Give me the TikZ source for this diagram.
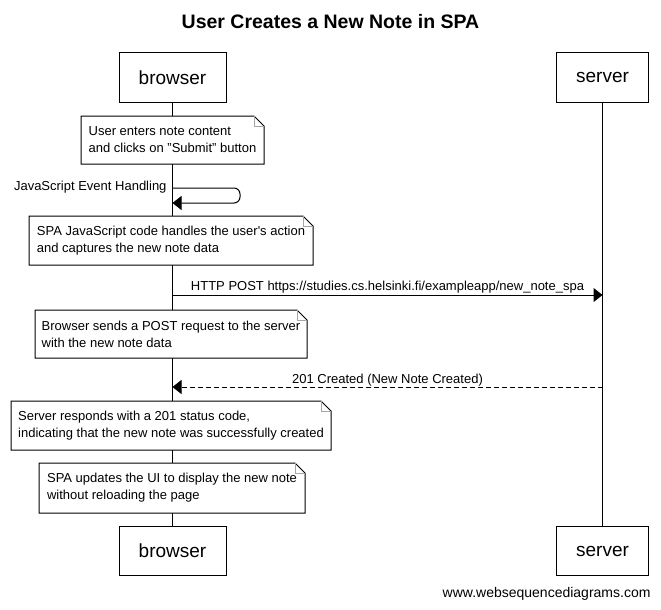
\documentclass[tikz,border=0pt]{standalone}
\usepackage{fontspec}
\setmainfont{Liberation Sans}[Ligatures=NoCommon]
\usetikzlibrary{arrows.meta}
\newcommand{\notefold}[1]{%
  \draw (#1.north west) -- ([xshift=-10pt]#1.north east) -- ([yshift=-10pt]#1.north east) -- (#1.south east) -- (#1.south west) -- cycle;
  \draw[foldline] ([xshift=-10pt]#1.north east) -- ([xshift=-10pt,yshift=-10pt]#1.north east) -- ([yshift=-10pt]#1.north east);}
\begin{document}
\begin{tikzpicture}[x=1pt,y=-1pt,line width=1pt,
  actor/.style={draw,rectangle,minimum width=#1,minimum height=49pt,inner sep=0pt,outer sep=0pt,font=\fontsize{19}{22}\selectfont},
  notebox/.style 2 args={rectangle,fill=white,minimum width=#1,minimum height=#2,inner sep=0pt,outer sep=0pt,align=left,font=\fontsize{13}{17}\selectfont},
  foldline/.style={draw=gray!70,line width=0.8pt},
  msg/.style={font=\fontsize{13}{15}\selectfont,inner sep=0pt},
  tip/.style={-{Triangle[length=9pt,width=14pt]}},
  reply/.style={tip,dash pattern=on 5pt off 3pt}]
\useasboundingbox (0,0) rectangle (661,610);
% title
\node[font=\bfseries\fontsize{19.5}{22}\selectfont] (title) at (330.5,22) {User Creates a New Note in SPA};
% actors
\node[actor=107pt] (bt) at (172.5,77.5) {browser};
\node[actor=107pt] (bb) at (172.5,551) {browser};
\node[actor=92pt] (st) at (602.5,77.5) {server};
\node[actor=92pt] (sb) at (602.5,551) {server};
\draw (bt) -- (bb);
\draw (st) -- (sb);
% note 1
\node[notebox={183pt}{48pt}] (n1) at (172.5,140) {User enters note content\\and clicks on "Submit" button};
\notefold{n1}
% self message
\coordinate (s1) at (172.5,188);
\coordinate (s2) at (172.5,203);
\coordinate (s3) at (240,188);
\coordinate (s4) at (240,203);
\draw[tip,rounded corners=6pt] (s1) -- (s3) -- (s4) -- (s2);
\node[msg,anchor=east] (l1) at (167,187) {JavaScript Event Handling};
% note 2
\node[notebox={284pt}{49pt}] (n2) at (171,240.5) {SPA JavaScript code handles the user\textquotesingle s action\\and captures the new note data};
\notefold{n2}
% POST
\coordinate (p1) at (172.5,295);
\coordinate (p2) at (602.5,295);
\draw[tip] (p1) -- (p2);
\node[msg] (l2) at (387.5,287) {HTTP POST https://studies.cs.helsinki.fi/exampleapp/new\_note\_spa};
% note 3
\node[notebox={272pt}{48pt}] (n3) at (171,334) {Browser sends a POST request to the server\\with the new note data};
\notefold{n3}
% reply
\coordinate (r1) at (602.5,387);
\coordinate (r2) at (172.5,387);
\draw[reply] (r1) -- (r2);
\node[msg] (l3) at (387.5,380) {201 Created (New Note Created)};
% note 4
\node[notebox={320pt}{49pt}] (n4) at (171,425.5) {Server responds with a 201 status code,\\indicating that the new note was successfully created};
\notefold{n4}
% note 5
\node[notebox={266pt}{50pt}] (n5) at (172,488) {SPA updates the UI to display the new note\\without reloading the page};
\notefold{n5}
% footer
\node[anchor=east,font=\fontsize{14}{16}\selectfont,inner sep=0pt] (foot) at (651,594) {www.websequencediagrams.com};
\end{tikzpicture}
\end{document}
